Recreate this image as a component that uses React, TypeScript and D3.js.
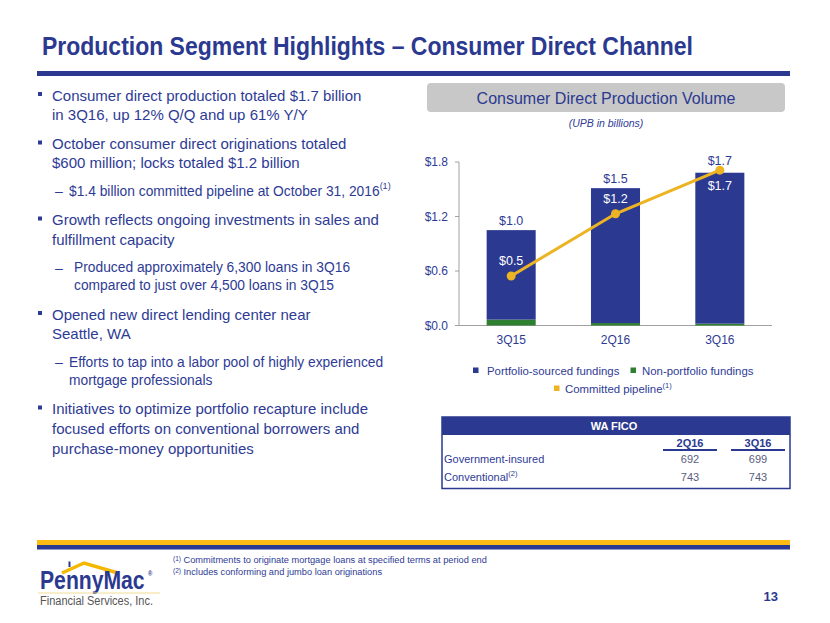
import React from "react";
import * as d3 from "d3";

const categories = ["3Q15", "2Q16", "3Q16"];
const portfolioSourced = [0.985, 1.485, 1.662];
const nonPortfolio = [0.065, 0.027, 0.02];
const totalLabels = ["$1.0", "$1.5", "$1.7"];
const pipeline = [0.545, 1.23, 1.71];
const pipelineLabels = ["$0.5", "$1.2", "$1.7"];
const yTicks = [0, 0.6, 1.2, 1.8];

const ficoColumns = ["2Q16", "3Q16"];
const ficoRows = ["Government-insured", "Conventional"];
const ficoGov = [692, 699];
const ficoConv = [743, 743];

const NAVY = "#2b3990";
const TEXT = "#2e3b95";
const GOLD = "#ecb422";
const GREEN = "#2f7f30";
const FONT = "'Liberation Sans', Arial, sans-serif";
const NARROW = "'Liberation Sans Narrow', 'Arial Narrow', 'Liberation Sans', Arial, sans-serif";

type Line = { t: string; kind: "b" | "c" | "d" | "dc"; y: number; sup?: string };
const bulletLines: Line[] = [
  { t: "Consumer direct production totaled $1.7 billion", kind: "b", y: 95 },
  { t: "in 3Q16, up 12% Q/Q and up 61% Y/Y", kind: "c", y: 114.5 },
  { t: "October consumer direct originations totaled", kind: "b", y: 143.5 },
  { t: "$600 million; locks totaled $1.2 billion", kind: "c", y: 162 },
  { t: "$1.4 billion committed pipeline at October 31, 2016", kind: "d", y: 191, sup: "(1)" },
  { t: "Growth reflects ongoing investments in sales and", kind: "b", y: 219.5 },
  { t: "fulfillment capacity", kind: "c", y: 239.5 },
  { t: "Produced approximately 6,300 loans in 3Q16", kind: "d", y: 267.5 },
  { t: "compared to just over 4,500 loans in 3Q15", kind: "dc", y: 285.5 },
  { t: "Opened new direct lending center near", kind: "b", y: 314 },
  { t: "Seattle, WA", kind: "c", y: 333.5 },
  { t: "Efforts to tap into a labor pool of highly experienced", kind: "d", y: 362 },
  { t: "mortgage professionals", kind: "dc", y: 380 },
  { t: "Initiatives to optimize portfolio recapture include", kind: "b", y: 408.5 },
  { t: "focused efforts on conventional borrowers and", kind: "c", y: 428 },
  { t: "purchase-money opportunities", kind: "c", y: 448 },
];

export default function App() {
  const x = d3.scaleBand<string>().domain(categories).range([459, 772]).paddingInner(0.53).paddingOuter(0.265);
  const y = d3.scaleLinear().domain([0, 1.8]).range([325.5, 162]);
  const line = d3
    .line<number>()
    .x((_, i) => (x(categories[i]) as number) + x.bandwidth() / 2)
    .y((d) => y(d));

  return (
    <svg width={830} height={623} style={{ position: "absolute", left: 0, top: 0, background: "#fff" }} fontFamily={FONT}>
      {/* Title */}
      <text x={42} y={55} fontSize={26} fontWeight="bold" fill={NAVY} fontFamily={NARROW} textLength={651} lengthAdjust="spacingAndGlyphs">
        Production Segment Highlights – Consumer Direct Channel
      </text>
      <rect x={37} y={71} width={753} height={5} fill={NAVY} />

      {/* Left bullets */}
      {bulletLines.map((l, i) => {
        const isSub = l.kind === "d" || l.kind === "dc";
        const tx = l.kind === "b" || l.kind === "c" ? 52 : l.t.startsWith("Produced") || l.t.startsWith("compared") ? 74 : 69;
        return (
          <g key={i}>
            {l.kind === "b" && <rect x={38} y={l.y - 3} width={4} height={4} fill={TEXT} />}
            {l.kind === "d" && (
              <text x={55} y={l.y} fontSize={14} fill={TEXT} dominantBaseline="central">
                –
              </text>
            )}
            <text x={tx} y={l.y} fontSize={isSub ? 13.8 : 15} fill={TEXT} dominantBaseline="central">
              {l.t}
              {l.sup && (
                <tspan fontSize={9} dy={-5}>
                  {l.sup}
                </tspan>
              )}
            </text>
          </g>
        );
      })}

      {/* Chart header */}
      <rect x={427} y={83} width={358} height={29} rx={4} fill="#c8c8c8" />
      <text x={606} y={98} fontSize={16} fill={NAVY} textAnchor="middle" dominantBaseline="central">
        Consumer Direct Production Volume
      </text>
      <text x={606} y={123} fontSize={10.5} fontStyle="italic" fill={TEXT} textAnchor="middle" dominantBaseline="central">
        (UPB in billions)
      </text>

      {/* Axes */}
      <line x1={459} x2={459} y1={y(1.8)} y2={y(0)} stroke="#a0a0a0" />
      <line x1={459} x2={772} y1={y(0)} y2={y(0)} stroke="#a0a0a0" />
      {yTicks.map((t) => (
        <g key={t}>
          <line x1={455} x2={459} y1={y(t)} y2={y(t)} stroke="#a0a0a0" />
          <text x={448} y={y(t)} fontSize={12} fill={TEXT} textAnchor="end" dominantBaseline="central">
            {"$" + t.toFixed(1)}
          </text>
        </g>
      ))}
      {categories.map((c) => (
        <text key={c} x={(x(c) as number) + x.bandwidth() / 2} y={340} fontSize={12} fill={TEXT} textAnchor="middle" dominantBaseline="central">
          {c}
        </text>
      ))}

      {/* Bars */}
      {categories.map((c, i) => {
        const bx = x(c) as number;
        const total = portfolioSourced[i] + nonPortfolio[i];
        return (
          <g key={c}>
            <rect x={bx} y={y(nonPortfolio[i])} width={x.bandwidth()} height={y(0) - y(nonPortfolio[i])} fill={GREEN} />
            <rect x={bx} y={y(total)} width={x.bandwidth()} height={y(nonPortfolio[i]) - y(total)} fill={NAVY} />
          </g>
        );
      })}

      {/* Pipeline line */}
      <path d={line(pipeline) || ""} fill="none" stroke={GOLD} strokeWidth={3} />
      {pipeline.map((v, i) => (
        <circle key={i} cx={(x(categories[i]) as number) + x.bandwidth() / 2} cy={y(v)} r={4.5} fill={GOLD} />
      ))}

      {/* Labels */}
      {categories.map((c, i) => {
        const cx = (x(c) as number) + x.bandwidth() / 2;
        const top = y(portfolioSourced[i] + nonPortfolio[i]);
        const py = y(pipeline[i]);
        const totalY = Math.min(top, py) - 9;
        const below = Math.abs(py - top) < 20;
        const pY = below ? py + 16 : py - 15;
        return (
          <g key={c}>
            <text x={cx} y={totalY} fontSize={12.5} fill={TEXT} textAnchor="middle" dominantBaseline="central">
              {totalLabels[i]}
            </text>
            <text x={cx} y={pY} fontSize={12.5} fill="#fff" textAnchor="middle" dominantBaseline="central">
              {pipelineLabels[i]}
            </text>
          </g>
        );
      })}

      {/* Legend */}
      <rect x={473} y={367.5} width={5.5} height={5.5} fill={NAVY} />
      <text x={487} y={370.5} fontSize={11.4} fill={TEXT} dominantBaseline="central">
        Portfolio-sourced fundings
      </text>
      <rect x={630.5} y={367.5} width={5.5} height={5.5} fill={GREEN} />
      <text x={642} y={370.5} fontSize={11.4} fill={TEXT} dominantBaseline="central">
        Non-portfolio fundings
      </text>
      <rect x={554} y={385.5} width={5.5} height={5.5} fill={GOLD} />
      <text x={565} y={388.5} fontSize={11.4} fill={TEXT} dominantBaseline="central">
        Committed pipeline
        <tspan fontSize={7.5} dy={-4}>
          (1)
        </tspan>
      </text>

      {/* FICO table */}
      <rect x={442} y={417} width={348} height={71.5} fill="#fff" stroke={NAVY} strokeWidth={1.5} />
      <rect x={442} y={417} width={348} height={18} fill={NAVY} />
      <text x={614} y={426} fontSize={11} fontWeight="bold" fill="#fff" textAnchor="middle" dominantBaseline="central">
        WA FICO
      </text>
      {ficoColumns.map((c, j) => {
        const cx = j === 0 ? 690 : 758;
        return (
          <g key={c}>
            <text x={cx} y={442.5} fontSize={11} fontWeight="bold" fill={NAVY} textAnchor="middle" dominantBaseline="central">
              {c}
            </text>
            <line x1={cx - 27} x2={cx + 27} y1={450} y2={450} stroke={NAVY} strokeWidth={2} />
            <text x={cx} y={458.5} fontSize={11} fill="#5a5d7e" textAnchor="middle" dominantBaseline="central">
              {ficoGov[j]}
            </text>
            <text x={cx} y={477} fontSize={11} fill="#5a5d7e" textAnchor="middle" dominantBaseline="central">
              {ficoConv[j]}
            </text>
          </g>
        );
      })}
      <text x={444} y={458.5} fontSize={11} fill={TEXT} dominantBaseline="central">
        {ficoRows[0]}
      </text>
      <text x={444} y={477} fontSize={11} fill={TEXT} dominantBaseline="central">
        {ficoRows[1]}
        <tspan fontSize={7.5} dy={-4}>
          (2)
        </tspan>
      </text>

      {/* Footer rules */}
      <rect x={37} y={540} width={753} height={5} fill="#fdbb13" />
      <rect x={37} y={545} width={753} height={4.5} fill={NAVY} />

      {/* Footnotes */}
      <text x={173} y={560} fontSize={9.25} fill={TEXT} fontFamily={NARROW} dominantBaseline="central">
        <tspan fontSize={6.5} dy={-2}>(1)</tspan>
        <tspan dy={2}> Commitments to originate mortgage loans at specified terms at period end</tspan>
      </text>
      <text x={173} y={572} fontSize={9.25} fill={TEXT} fontFamily={NARROW} dominantBaseline="central">
        <tspan fontSize={6.5} dy={-2}>(2)</tspan>
        <tspan dy={2}> Includes conforming and jumbo loan originations</tspan>
      </text>
      <text x={778} y={596} fontSize={13} fontWeight="bold" fill={NAVY} textAnchor="end" dominantBaseline="central">
        13
      </text>

      {/* Logo */}
      <polyline points="62,573 84,563 118,573" fill="none" stroke="#f5b800" strokeWidth={3.5} strokeLinejoin="miter" />
      <line x1={69.5} x2={69.5} y1={561.5} y2={567} stroke={NAVY} strokeWidth={2} />
      <g transform="translate(40,589) scale(0.83,1)">
        <text x={0} y={0} fontSize={25.5} fontWeight={600} fill={NAVY} fontFamily={NARROW}>
          PennyMac
          <tspan fontSize={7} dx={4} dy={-13}>
            ®
          </tspan>
        </text>
      </g>
      <line x1={38} x2={160} y1={593} y2={593} stroke="#f3dc94" strokeWidth={1} />
      <text x={40} y={605} fontSize={12} fill="#555" fontFamily={NARROW} textLength={113} lengthAdjust="spacingAndGlyphs">
        Financial Services, Inc.
      </text>
    </svg>
  );
}
